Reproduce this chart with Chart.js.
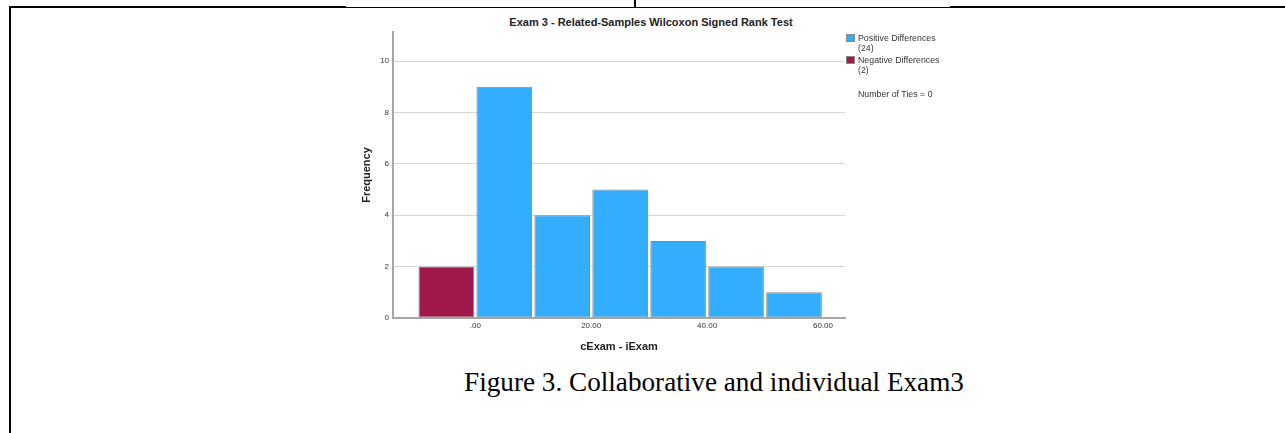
<!DOCTYPE html>
<html>
<head>
<meta charset="utf-8">
<script src="https://cdn.jsdelivr.net/npm/chart.js@4.4.0/dist/chart.umd.min.js"></script>
<style>
  html, body { margin: 0; padding: 0; background: #fff; }
  body { width: 1285px; height: 433px; position: relative; overflow: hidden; font-family: "Liberation Sans", Arial, sans-serif; }
  .rule { position: absolute; background: #000; }
  #chartBox { position: absolute; left: 340px; top: 0; width: 520px; height: 360px; }
  #title { position: absolute; left: 451px; width: 400px; top: 16px; text-align: center; font-weight: bold; font-size: 11px; color: #222; }
  #legend { position: absolute; left: 846px; top: 33px; font-size: 8.8px; color: #333; line-height: 10px; }
  .item { position: relative; padding-left: 12px; margin-bottom: 2px; }
  .swatch { position: absolute; left: 0; top: 1px; width: 9px; height: 8px; border: 0.5px solid #888; box-sizing: border-box; }
  #ties { margin-top: 14px; padding-left: 12px; }
  #caption { position: absolute; left: 314px; width: 800px; top: 367px; text-align: center; font-family: "Liberation Serif", "Times New Roman", serif; font-size: 27.2px; color: #000; }
</style>
</head>
<body>
<div class="rule" style="left:9px; top:6px; width:337px; height:2px;"></div>
<div class="rule" style="left:346px; top:7px; width:604px; height:1px;"></div>
<div class="rule" style="left:950px; top:6px; width:335px; height:2px;"></div>
<div class="rule" style="left:9px; top:6px; width:2px; height:427px;"></div>
<div class="rule" style="left:634px; top:0; width:2px; height:7px;"></div>

<div id="title">Exam 3 - Related-Samples Wilcoxon Signed Rank Test</div>
<div id="chartBox"><canvas id="wilcoxonChart"></canvas></div>
<div id="legend"></div>
<div id="caption">Figure 3. Collaborative and individual Exam3</div>

<script>
// bin centres (width 10) and frequencies
const negCenters = [-5];
const negCounts = [2];
const posCenters = [5, 15, 25, 35, 45, 55];
const posCounts = [9, 4, 5, 3, 2, 1];

const xTickValues = [0, 20, 40, 60];
const xTickLabels = [".00", "20.00", "40.00", "60.00"];
const yTickValues = [0, 2, 4, 6, 8, 10];

const legendLabels = [["Positive Differences", "(24)"], ["Negative Differences", "(2)"]];
const tiesNote = "Number of Ties = 0";

const posColor = "#33adfd";
const negColor = "#9e1849";

const toPoints = (xs, ys) => xs.map((x, i) => ({ x: x, y: ys[i] }));

// legend
const legendEl = document.getElementById("legend");
[posColor, negColor].forEach((c, i) => {
  const div = document.createElement("div");
  div.className = "item";
  div.innerHTML = `<span class="swatch" style="background:${c}"></span>${legendLabels[i].join("<br>")}`;
  legendEl.appendChild(div);
});
const ties = document.createElement("div");
ties.id = "ties";
ties.textContent = tiesNote;
legendEl.appendChild(ties);

const tickFont = { family: "'Liberation Sans', Arial, sans-serif", size: 8 };
const titleFont = { family: "'Liberation Sans', Arial, sans-serif", size: 11, weight: "bold" };

new Chart(document.getElementById("wilcoxonChart").getContext("2d"), {
  type: "bar",
  data: {
    datasets: [
      {
        label: legendLabels[1][0],
        data: toPoints(negCenters, negCounts),
        backgroundColor: negColor,
      },
      {
        label: legendLabels[0][0],
        data: toPoints(posCenters, posCounts),
        backgroundColor: posColor,
      },
    ],
  },
  options: {
    responsive: true,
    maintainAspectRatio: false,
    animation: false,
    layout: { padding: { left: 15, right: 15, top: 32, bottom: 0 } },
    datasets: {
      bar: {
        grouped: false,
        barPercentage: 0.96,
        categoryPercentage: 1,
        borderWidth: 1,
        borderColor: "#8a8a8a",
        borderSkipped: false,
      },
    },
    plugins: {
      legend: { display: false },
      tooltip: { enabled: false },
      title: { display: false },
    },
    scales: {
      x: {
        type: "linear",
        offset: false,
        min: -14.2,
        max: 63.8,
        afterBuildTicks: (s) => { s.ticks = xTickValues.map((v) => ({ value: v })); },
        afterFit: (s) => { s.height = 42; },
        ticks: {
          autoSkip: false,
          maxRotation: 0,
          padding: 3,
          color: "#333",
          font: tickFont,
          callback: (v, i) => xTickLabels[i],
        },
        grid: { display: false, drawTicks: false, offset: false },
        border: { display: true, color: "#a8a8a8", width: 2 },
        title: { display: true, text: "cExam - iExam", color: "#222", font: titleFont, padding: { top: 0, bottom: 6 } },
      },
      y: {
        type: "linear",
        min: 0,
        max: 11.13,
        afterBuildTicks: (s) => { s.ticks = yTickValues.map((v) => ({ value: v })); },
        afterFit: (s) => { s.width = 38; },
        ticks: { padding: 4, color: "#333", font: tickFont },
        grid: { color: "#d6d6d6", lineWidth: 1, drawTicks: false },
        border: { display: true, color: "#a8a8a8", width: 2 },
        title: { display: true, text: "Frequency", color: "#222", font: titleFont, padding: { top: 5, bottom: 0 } },
      },
    },
  },
});
</script>
</body>
</html>
